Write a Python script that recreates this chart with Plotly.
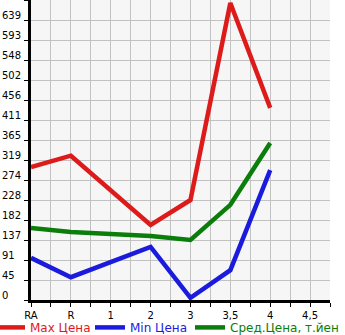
import plotly.graph_objects as go

categories = ["RA", "R", "1", "2", "3", "3,5", "4", "4,5"]
max_price = [303, 329, None, 171, 228, 677, 438, None]
min_price = [96, 52, None, 121, 5, 68, 296, None]
avg_price = [164, 155, None, 146, 137, 217, 358, None]
y_tick_labels = ["0", "45", "91", "137", "182", "228", "274", "319", "365", "411", "456", "502", "548", "593", "639"]
y_step = 45.6

xpos = list(range(len(categories)))
fig = go.Figure()
series = [
    ("Max Цена", max_price, "#dd1b1b", "legend"),
    ("Min Цена", min_price, "#1b1bdd", "legend2"),
    ("Сред.Цена, т.йен", avg_price, "#0a7d0a", "legend3"),
]
for name, vals, col, lg in series:
    fig.add_trace(go.Scatter(
        x=xpos, y=vals, mode="lines", connectgaps=True,
        name=f"<span style='color:{col}'>{name}</span>",
        line=dict(color=col, width=4.5), legend=lg,
    ))

yvals = [i * y_step for i in range(len(y_tick_labels) + 1)]
xtickvals = [i * 0.5 for i in range(16)]
xticktext = [categories[int(v)] if v == int(v) else "" for v in xtickvals]

legend_common = dict(orientation="h", xanchor="left", y=-0.043, yanchor="top",
                     font=dict(size=12), itemwidth=30, bgcolor="rgba(0,0,0,0)")
fig.update_layout(
    width=345, height=335,
    margin=dict(l=31, r=15, t=0, b=35, autoexpand=False),
    paper_bgcolor="white", plot_bgcolor="#f6f6f6",
    font=dict(family="DejaVu Sans", size=10, color="black"),
    showlegend=True,
    legend=dict(x=-41 / 299, **legend_common),
    legend2=dict(x=59 / 299, **legend_common),
    legend3=dict(x=159 / 299, **legend_common),
)
fig.update_xaxes(range=[0, 7.5], tickvals=xtickvals, ticktext=xticktext,
                 showgrid=True, gridcolor="#c2c2c2", gridwidth=1,
                 showline=True, linecolor="black", linewidth=3,
                 ticks="outside", ticklen=4, tickcolor="black", tickwidth=1,
                 zeroline=False, fixedrange=True)
fig.update_yaxes(range=[0, yvals[-1]], tickvals=yvals, showticklabels=False,
                 showgrid=True, gridcolor="#c2c2c2", gridwidth=1,
                 showline=True, linecolor="black", linewidth=3,
                 ticks="outside", ticklen=4, tickcolor="black", tickwidth=1,
                 zeroline=False, fixedrange=True)
for v, t in zip(yvals, y_tick_labels):
    fig.add_annotation(x=0, xref="paper", xshift=-31, xanchor="left",
                       y=v, yref="y", yanchor="middle", yshift=5,
                       text=t, showarrow=False, font=dict(size=10))

fig.write_html("out.html")
